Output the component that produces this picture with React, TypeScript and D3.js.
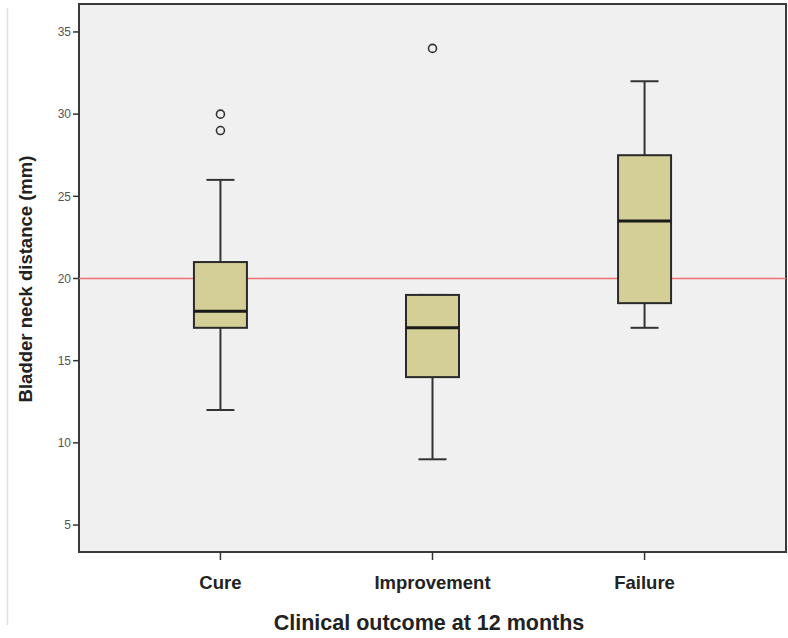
import React from 'react'
import * as d3 from 'd3'

const categories = ['Cure', 'Improvement', 'Failure']
const whiskerLow = [12, 9, 17]
const q1 = [17, 14, 18.5]
const medians = [18, 17, 23.5]
const q3 = [21, 19, 27.5]
const whiskerHigh = [26, 19, 32]
const outliers = [[29, 30], [34], []]
const yTicks = [5, 10, 15, 20, 25, 30, 35]
const refValue = 20

const width = 788
const height = 638
const left = 79
const right = 786
const top = 4
const bottom = 552

const x = d3.scalePoint<string>().domain(categories).range([left, right]).padding(0.667)
const y = d3.scaleLinear().domain([3.36, 36.7]).range([bottom, top])

const boxW = 53
const capW = 28
const font = 'Arial, "Liberation Sans", sans-serif'

function App() {
    return (
        <svg width={width} height={height} style={{ display: 'block', position: 'fixed', left: 0, top: 0 }}>
            <rect x={0} y={0} width={width} height={height} fill="#fff" />
            <line x1={7.5} x2={7.5} y1={8} y2={625} stroke="#e2e2e2" strokeWidth={1.5} />
            <rect x={left} y={top} width={right - left} height={bottom - top} fill="#f0f0f0" stroke="#3a3a3a" strokeWidth={2} />
            {yTicks.map(t => (
                <g key={t} transform={`translate(${left},${y(t)})`}>
                    <line x1={-6} x2={0} stroke="#333" strokeWidth={1.5} />
                    <text x={-8} dy="0.35em" textAnchor="end" fontFamily={font} fontSize={12} fill="#555">{t}</text>
                </g>
            ))}
            <line x1={left} x2={right} y1={y(refValue)} y2={y(refValue)} stroke="#f07070" strokeWidth={1.5} />
            {categories.map((c, i) => {
                const cx = x(c)!
                return (
                    <g key={c}>
                        <line x1={cx} x2={cx} y1={y(whiskerLow[i])} y2={y(q1[i])} stroke="#333" strokeWidth={2} />
                        <line x1={cx} x2={cx} y1={y(whiskerHigh[i])} y2={y(q3[i])} stroke="#333" strokeWidth={2} />
                        <line x1={cx - capW / 2} x2={cx + capW / 2} y1={y(whiskerLow[i])} y2={y(whiskerLow[i])} stroke="#333" strokeWidth={2} />
                        <line x1={cx - capW / 2} x2={cx + capW / 2} y1={y(whiskerHigh[i])} y2={y(whiskerHigh[i])} stroke="#333" strokeWidth={2} />
                        <rect x={cx - boxW / 2} y={y(q3[i])} width={boxW} height={y(q1[i]) - y(q3[i])} fill="#d3cf97" stroke="#2a2a2a" strokeWidth={2} />
                        <line x1={cx - boxW / 2} x2={cx + boxW / 2} y1={y(medians[i])} y2={y(medians[i])} stroke="#1a1a1a" strokeWidth={3} />
                        {outliers[i].map(o => (
                            <circle key={o} cx={cx} cy={y(o)} r={4} fill="none" stroke="#333" strokeWidth={1.6} />
                        ))}
                        <line x1={cx} x2={cx} y1={bottom} y2={bottom + 8} stroke="#333" strokeWidth={1.5} />
                        <text x={cx} y={589} textAnchor="middle" fontFamily={font} fontSize={18.5} fontWeight="bold" fill="#222">{c}</text>
                    </g>
                )
            })}
            <text x={429} y={630} textAnchor="middle" fontFamily={font} fontSize={21.5} fontWeight="bold" fill="#222">Clinical outcome at 12 months</text>
            <text transform={`translate(32,279) rotate(-90)`} textAnchor="middle" fontFamily={font} fontSize={18.5} fontWeight="bold" fill="#222">Bladder neck distance (mm)</text>
        </svg>
    )
}

export default App
